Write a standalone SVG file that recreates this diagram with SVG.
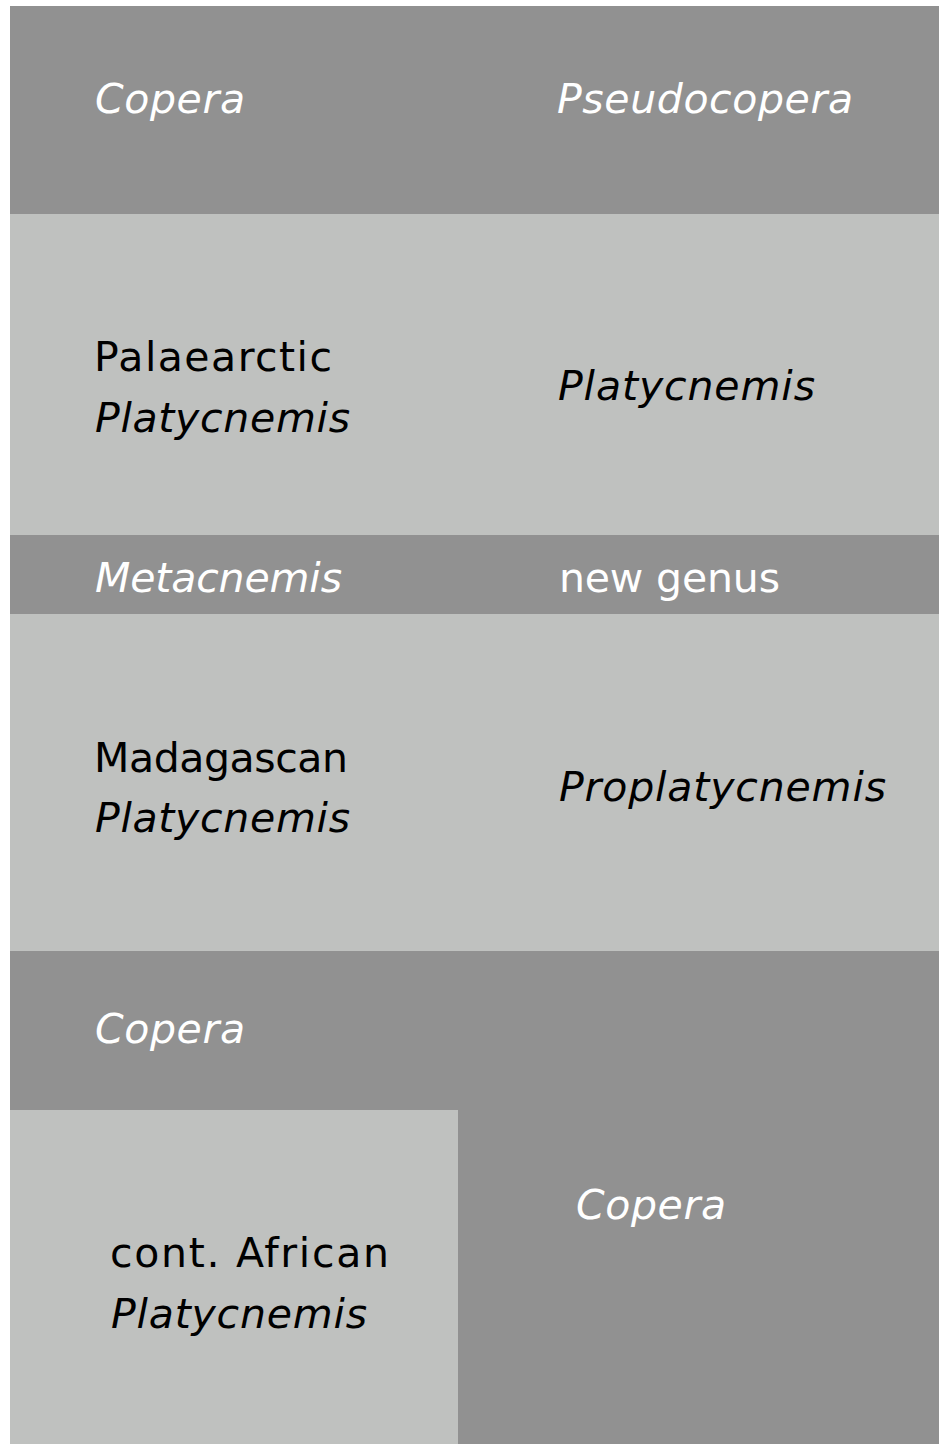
<svg xmlns="http://www.w3.org/2000/svg" width="944" height="1444" viewBox="0 0 944 1444">
<style>
.dark{fill:#919191}
.light{fill:#bfc1bf}
text{font-family:"DejaVu Sans","Liberation Sans",sans-serif;font-size:41px}
.w{fill:#ffffff}
.k{fill:#000000}
.i{font-style:italic}
</style>
<rect x="0" y="0" width="944" height="1444" fill="#ffffff"/>
<g id="row-copera-pseudocopera">
<rect class="dark" x="10" y="6" width="929" height="208"/>
<text class="w i" x="95" y="113" textLength="150" lengthAdjust="spacing">Copera</text>
<text class="w i" x="557" y="113" textLength="296" lengthAdjust="spacing">Pseudocopera</text>
</g>
<g id="row-platycnemis">
<rect class="light" x="10" y="214" width="929" height="321"/>
<text class="k" x="94" y="371" textLength="238" lengthAdjust="spacing">Palaearctic</text>
<text class="k i" x="95" y="432" textLength="255" lengthAdjust="spacing">Platycnemis</text>
<text class="k i" x="558" y="400" textLength="257" lengthAdjust="spacing">Platycnemis</text>
</g>
<g id="row-metacnemis">
<rect class="dark" x="10" y="535" width="929" height="79"/>
<text class="w i" x="95" y="592" textLength="247" lengthAdjust="spacing">Metacnemis</text>
<text class="w" x="559" y="592" textLength="221" lengthAdjust="spacing">new genus</text>
</g>
<g id="row-proplatycnemis">
<rect class="light" x="10" y="614" width="929" height="337"/>
<text class="k" x="94" y="772" textLength="254" lengthAdjust="spacing">Madagascan</text>
<text class="k i" x="95" y="832" textLength="255" lengthAdjust="spacing">Platycnemis</text>
<text class="k i" x="559" y="801" textLength="327" lengthAdjust="spacing">Proplatycnemis</text>
</g>
<g id="row-copera-bottom">
<rect class="dark" x="10" y="951" width="929" height="493"/>
<text class="w i" x="95" y="1043" textLength="150" lengthAdjust="spacing">Copera</text>
<text class="w i" x="576" y="1219" textLength="150" lengthAdjust="spacing">Copera</text>
</g>
<g id="cell-african-platycnemis">
<rect class="light" x="10" y="1110" width="448" height="334"/>
<text class="k" x="110" y="1267" textLength="279" lengthAdjust="spacing">cont. African</text>
<text class="k i" x="111" y="1328" textLength="256" lengthAdjust="spacing">Platycnemis</text>
</g>
<g id="connectors"/>
</svg>
